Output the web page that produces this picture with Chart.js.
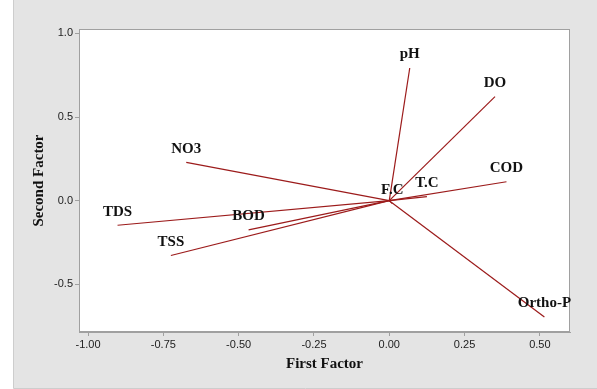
<!DOCTYPE html>
<html>
<head>
<meta charset="utf-8">
<script src="https://cdn.jsdelivr.net/npm/chart.js@4.4.0/dist/chart.umd.min.js"></script>
<style>
html,body{margin:0;padding:0;background:#fff;}
canvas{display:block;}
</style>
</head>
<body>
<canvas id="c" width="597" height="389"></canvas>
<script>
// Variables (loading vectors)
const variables = ['pH', 'DO', 'COD', 'T.C', 'F.C', 'Ortho-P', 'NO3', 'TDS', 'BOD', 'TSS'];
const firstFactor  = [0.068, 0.351, 0.389, 0.125, 0.010, 0.515, -0.674, -0.902, -0.467, -0.725];
const secondFactor = [0.793, 0.622, 0.113, 0.024, -0.018, -0.695, 0.229, -0.147, -0.175, -0.328];
const xTicks = [-1.00, -0.75, -0.50, -0.25, 0.00, 0.25, 0.50];
const yTicks = [-0.5, 0.0, 0.5, 1.0];
const xTitle = 'First Factor';
const yTitle = 'Second Factor';

const lineColor = '#9c1b1b';

const datasets = variables.map((name, i) => ({
  label: name,
  data: [{x: 0, y: 0}, {x: firstFactor[i], y: secondFactor[i]}],
  showLine: true,
  borderColor: lineColor,
  borderWidth: 1.2,
  pointRadius: 0,
  fill: false
}));

const bgPlugin = {
  id: 'bg',
  beforeDraw(chart) {
    const ctx = chart.ctx;
    const W = chart.width, H = chart.height;
    ctx.save();
    ctx.fillStyle = '#ffffff';
    ctx.fillRect(0, 0, W, H);
    ctx.fillStyle = '#e4e4e4';
    ctx.fillRect(13, 0, W - 13, H - 1);
    ctx.strokeStyle = '#cdcdcd';
    ctx.lineWidth = 1;
    ctx.beginPath();
    ctx.moveTo(13.5, 0); ctx.lineTo(13.5, H - 0.5); ctx.lineTo(W, H - 0.5);
    ctx.stroke();
    const a = chart.chartArea;
    ctx.fillStyle = '#ffffff';
    ctx.fillRect(a.left, a.top, a.right - a.left, a.bottom - a.top);
    ctx.restore();
  },
  afterDraw(chart) {
    const ctx = chart.ctx;
    const a = chart.chartArea;
    ctx.save();
    ctx.strokeStyle = '#a0a0a0';
    ctx.lineWidth = 1;
    ctx.strokeRect(a.left + 0.5, a.top + 0.5, a.right - a.left - 1, a.bottom - a.top - 1);
    // labels
    const xs = chart.scales.x, ys = chart.scales.y;
    ctx.fillStyle = '#111111';
    ctx.font = 'bold 15px "Liberation Serif", "Times New Roman", serif';
    ctx.textAlign = 'center';
    ctx.textBaseline = 'middle';
    variables.forEach((name, i) => {
      const px = xs.getPixelForValue(firstFactor[i]);
      const py = ys.getPixelForValue(secondFactor[i]);
      ctx.fillText(name, px, py - 13.5);
    });
    // axis titles
    ctx.fillText(xTitle, (a.left + a.right) / 2, 364);
    ctx.translate(39, (a.top + a.bottom) / 2);
    ctx.rotate(-Math.PI / 2);
    ctx.fillText(yTitle, 0, 0);
    ctx.restore();
  }
};

new Chart(document.getElementById('c'), {
  type: 'scatter',
  data: { datasets },
  options: {
    responsive: false,
    animation: false,
    devicePixelRatio: 1,
    layout: { padding: { left: 0, top: 29, right: 27, bottom: 0 } },
    plugins: { legend: { display: false }, tooltip: { enabled: false } },
    scales: {
      x: {
        type: 'linear',
        min: -1.03, max: 0.60,
        afterBuildTicks: s => { s.ticks = xTicks.map(v => ({ value: v })); },
        afterFit: s => { s.height = 57; },
        grid: { drawOnChartArea: false, drawTicks: true, tickLength: 4, color: '#a0a0a0' },
        border: { color: '#a0a0a0' },
        ticks: {
          padding: 2,
          color: '#222',
          font: { family: '"Liberation Sans", Arial, sans-serif', size: 11 },
          callback: v => v.toFixed(2),
          maxRotation: 0, autoSkip: false
        }
      },
      y: {
        type: 'linear',
        min: -0.785, max: 1.026,
        afterBuildTicks: s => { s.ticks = yTicks.map(v => ({ value: v })); },
        afterFit: s => { s.width = 79; },
        grid: { drawOnChartArea: false, drawTicks: true, tickLength: 4, color: '#a0a0a0' },
        border: { color: '#a0a0a0' },
        ticks: {
          padding: 2,
          color: '#222',
          font: { family: '"Liberation Sans", Arial, sans-serif', size: 11 },
          callback: v => v.toFixed(1),
          autoSkip: false
        }
      }
    }
  },
  plugins: [bgPlugin]
});
</script>
</body>
</html>
